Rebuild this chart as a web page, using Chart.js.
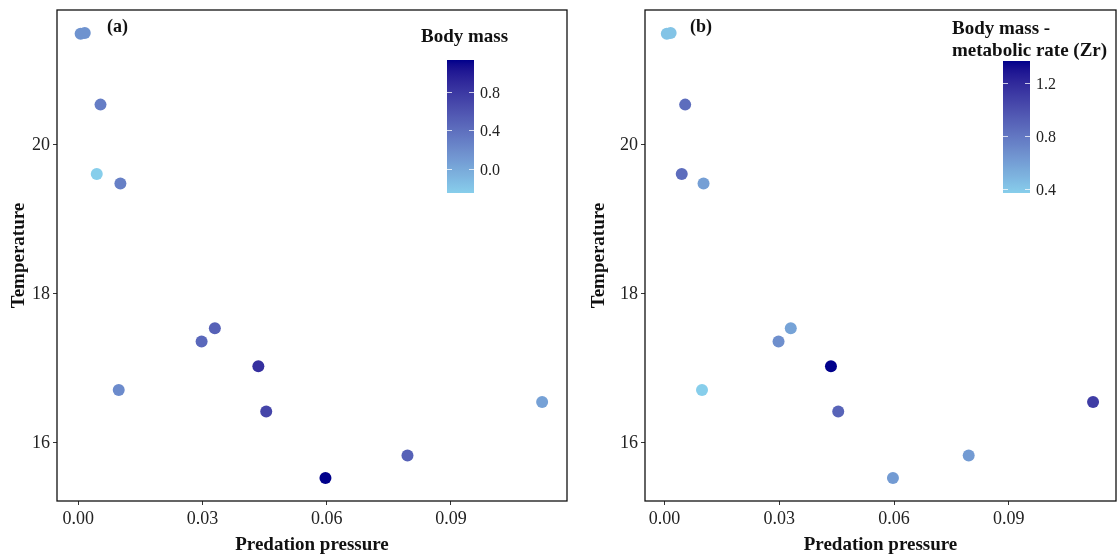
<!DOCTYPE html>
<html>
<head>
<meta charset="utf-8">
<script src="https://cdn.jsdelivr.net/npm/chart.js@4.4.0/dist/chart.umd.min.js"></script>
<style>
  html, body { margin: 0; padding: 0; background: #fff; }
  #wrap { position: relative; width: 1117px; height: 558px; }
  .panel { position: absolute; top: 0; }
</style>
</head>
<body>
<div id="wrap">
  <div class="panel" style="left:0"><canvas id="chartA" width="575" height="558"></canvas></div>
  <div class="panel" style="left:575px"><canvas id="chartB" width="542" height="558"></canvas></div>
</div>
<script>
// ============================
// Data
// ============================
const predation = [0.0006, 0.0016, 0.0054, 0.0045, 0.0102, 0.0330, 0.0298, 0.0435, 0.0098, 0.0454, 0.1120, 0.0795, 0.0597];
const temperature = [21.49, 21.50, 20.54, 19.61, 19.48, 17.54, 17.36, 17.03, 16.71, 16.42, 16.55, 15.83, 15.53];
const bodyMass = [0.15, 0.15, 0.30, -0.25, 0.28, 0.50, 0.45, 0.85, 0.20, 0.70, 0.05, 0.50, 1.13];
const bodyMassZr = [0.42, 0.42, 0.85, 0.85, 0.60, 0.58, 0.68, 1.37, 0.37, 0.90, 1.10, 0.62, 0.62];

const xTicks = [0, 0.03, 0.06, 0.09];
const yTicks = [16, 18, 20];
const massTicks = [0.0, 0.4, 0.8];
const zrTicks = [0.4, 0.8, 1.2];

const lowColor = "#87ceeb";
const highColor = "#00008b";
const SERIF = "'Liberation Serif', 'Times New Roman', serif";

// ============================
// Colour ramp (interpolated in CIELAB like ggplot)
// ============================
function toLab(hex) {
  const n = parseInt(hex.replace("#", ""), 16);
  const lin = [(n >> 16) & 255, (n >> 8) & 255, n & 255].map((c) => {
    c /= 255;
    return c <= 0.04045 ? c / 12.92 : Math.pow((c + 0.055) / 1.055, 2.4);
  });
  const X = (0.4124 * lin[0] + 0.3576 * lin[1] + 0.1805 * lin[2]) / 0.95047;
  const Y = 0.2126 * lin[0] + 0.7152 * lin[1] + 0.0722 * lin[2];
  const Z = (0.0193 * lin[0] + 0.1192 * lin[1] + 0.9505 * lin[2]) / 1.08883;
  const f = (t) => (t > 0.008856 ? Math.cbrt(t) : 7.787 * t + 16 / 116);
  return [116 * f(Y) - 16, 500 * (f(X) - f(Y)), 200 * (f(Y) - f(Z))];
}

function fromLab(L, a, b) {
  const fy = (L + 16) / 116, fx = fy + a / 500, fz = fy - b / 200;
  const inv = (f) => (f * f * f > 0.008856 ? f * f * f : (f - 16 / 116) / 7.787);
  const X = inv(fx) * 0.95047, Y = inv(fy), Z = inv(fz) * 1.08883;
  const lin = [
    3.2406 * X - 1.5372 * Y - 0.4986 * Z,
    -0.9689 * X + 1.8758 * Y + 0.0415 * Z,
    0.0557 * X - 0.204 * Y + 1.057 * Z,
  ];
  const rgb = lin.map((c) => {
    c = c <= 0.0031308 ? 12.92 * c : 1.055 * Math.pow(c, 1 / 2.4) - 0.055;
    return Math.round(Math.max(0, Math.min(1, c)) * 255);
  });
  return `rgb(${rgb[0]}, ${rgb[1]}, ${rgb[2]})`;
}

const labLow = toLab(lowColor);
const labHigh = toLab(highColor);

function rampColor(t) {
  t = Math.max(0, Math.min(1, t));
  return fromLab(
    labLow[0] + (labHigh[0] - labLow[0]) * t,
    labLow[1] + (labHigh[1] - labLow[1]) * t,
    labLow[2] + (labHigh[2] - labLow[2]) * t
  );
}

// ============================
// Plugins: panel frame, label and colour bar
// ============================
function panelPlugin(label, bar) {
  return {
    id: "panelDecor",
    afterDatasetsDraw(chart) {
      const { ctx, chartArea } = chart;
      ctx.save();
      ctx.strokeStyle = "#111";
      ctx.lineWidth = 1.3;
      ctx.strokeRect(chartArea.left, chartArea.top, chartArea.right - chartArea.left, chartArea.bottom - chartArea.top);

      ctx.fillStyle = "#111";
      ctx.font = "bold 18px " + SERIF;
      ctx.textBaseline = "alphabetic";
      ctx.textAlign = "left";
      ctx.fillText(label.text, label.x, label.y);

      // colour bar
      const { x, y, w, h, min, max, ticks, title } = bar;
      const grad = ctx.createLinearGradient(0, y + h, 0, y);
      for (let i = 0; i <= 30; i += 1) {
        grad.addColorStop(i / 30, rampColor(i / 30));
      }
      ctx.fillStyle = grad;
      ctx.fillRect(x, y, w, h);

      ctx.font = "16px " + SERIF;
      ctx.textBaseline = "middle";
      ctx.strokeStyle = "rgba(255,255,255,0.75)";
      ctx.lineWidth = 1;
      ticks.forEach((v) => {
        const ty = Math.round(y + h - ((v - min) / (max - min)) * h) + 0.5;
        ctx.beginPath();
        ctx.moveTo(x, ty);
        ctx.lineTo(x + 5, ty);
        ctx.moveTo(x + w - 5, ty);
        ctx.lineTo(x + w, ty);
        ctx.stroke();
        ctx.fillStyle = "#222";
        ctx.fillText(v.toFixed(1), x + w + 6, ty + 1);
      });

      ctx.fillStyle = "#111";
      ctx.font = "bold 19px " + SERIF;
      ctx.textBaseline = "alphabetic";
      title.lines.forEach((line, i) => {
        ctx.fillText(line, title.x, title.y + i * 22);
      });
      ctx.restore();
    },
  };
}

// ============================
// Chart builder
// ============================
function makeChart(id, values, yAxisWidth, yTitlePad, rightPad, label, bar) {
  const lo = Math.min(...values);
  const hi = Math.max(...values);
  const points = predation.map((x, i) => ({ x, y: temperature[i] }));
  const colors = values.map((v) => rampColor((v - lo) / (hi - lo)));
  bar.min = lo;
  bar.max = hi;

  return new Chart(document.getElementById(id), {
    type: "scatter",
    data: {
      datasets: [
        {
          data: points,
          pointBackgroundColor: colors,
          pointBorderWidth: 0,
          pointRadius: 6,
          pointHoverRadius: 6,
        },
      ],
    },
    options: {
      responsive: false,
      animation: false,
      events: [],
      layout: { autoPadding: false, padding: { top: 10, right: rightPad, bottom: 0, left: 0 } },
      plugins: { legend: { display: false }, tooltip: { enabled: false } },
      scales: {
        x: {
          type: "linear",
          min: -0.0051,
          max: 0.118,
          afterBuildTicks: (s) => { s.ticks = xTicks.map((v) => ({ value: v })); },
          afterFit: (s) => {
            s.height = 57;
            s.paddingLeft = 0;
            s.paddingRight = 0;
          },
          ticks: {
            autoSkip: false,
            maxRotation: 0,
            padding: 3,
            color: "#222",
            font: { family: SERIF, size: 18 },
            callback: (v) => Number(v).toFixed(2),
          },
          grid: { drawOnChartArea: false, drawTicks: true, tickLength: 4, color: "#333" },
          border: { display: false },
          title: {
            display: true,
            text: "Predation pressure",
            color: "#111",
            font: { family: SERIF, size: 19, weight: "bold" },
            padding: { top: 0, bottom: 2 },
          },
        },
        y: {
          type: "linear",
          min: 15.22,
          max: 21.81,
          afterBuildTicks: (s) => { s.ticks = yTicks.map((v) => ({ value: v })); },
          afterFit: (s) => {
            s.width = yAxisWidth;
            s.paddingTop = 0;
            s.paddingBottom = 0;
          },
          ticks: {
            autoSkip: false,
            padding: 3,
            color: "#222",
            font: { family: SERIF, size: 18 },
            callback: (v) => String(v),
          },
          grid: { drawOnChartArea: false, drawTicks: true, tickLength: 4, color: "#333" },
          border: { display: false },
          title: {
            display: true,
            text: "Temperature",
            color: "#111",
            font: { family: SERIF, size: 19, weight: "bold" },
            padding: { top: yTitlePad, bottom: 0 },
          },
        },
      },
    },
    plugins: [panelPlugin(label, bar)],
  });
}

makeChart("chartA", bodyMass, 57, 8, 8,
  { text: "(a)", x: 107, y: 32 },
  { x: 447, y: 60, w: 27, h: 133, ticks: massTicks, title: { lines: ["Body mass"], x: 421, y: 42 } }
);

makeChart("chartB", bodyMassZr, 70, 13, 1,
  { text: "(b)", x: 115, y: 32 },
  { x: 428, y: 61, w: 27, h: 132, ticks: zrTicks, title: { lines: ["Body mass -", "metabolic rate (Zr)"], x: 377, y: 34 } }
);
</script>
</body>
</html>
